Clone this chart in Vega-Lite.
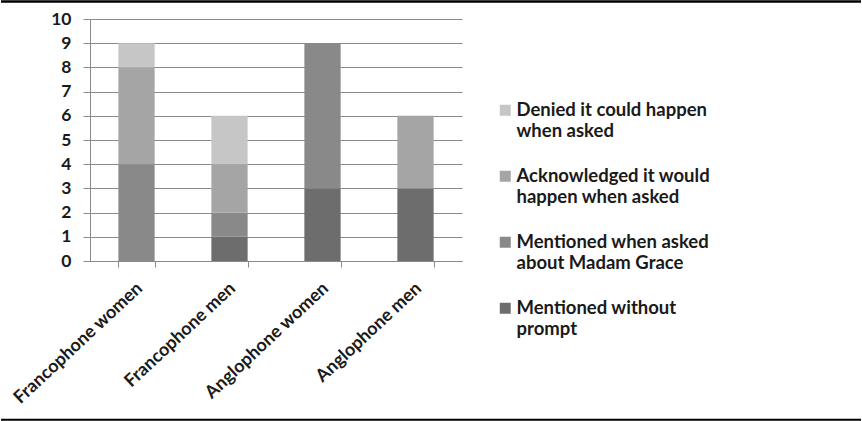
{
  "$schema": "https://vega.github.io/schema/vega-lite/v6.json",
  "width": 372,
  "height": 242,
  "autosize": {"type": "none"},
  "padding": {"left": 90, "top": 19, "right": 400, "bottom": 160},
  "background": "white",
  "config": {
    "font": "Lato",
    "view": {"stroke": null}
  },
  "layer": [
    {
      "data": {
        "values": [
          {"group": "Francophone women", "response": "Mentioned when asked about Madam Grace", "count": 4, "rank": 2},
          {"group": "Francophone women", "response": "Acknowledged it would happen when asked", "count": 4, "rank": 3},
          {"group": "Francophone women", "response": "Denied it could happen when asked", "count": 1, "rank": 4},
          {"group": "Francophone men", "response": "Mentioned without prompt", "count": 1, "rank": 1},
          {"group": "Francophone men", "response": "Mentioned when asked about Madam Grace", "count": 1, "rank": 2},
          {"group": "Francophone men", "response": "Acknowledged it would happen when asked", "count": 2, "rank": 3},
          {"group": "Francophone men", "response": "Denied it could happen when asked", "count": 2, "rank": 4},
          {"group": "Anglophone women", "response": "Mentioned without prompt", "count": 3, "rank": 1},
          {"group": "Anglophone women", "response": "Mentioned when asked about Madam Grace", "count": 6, "rank": 2},
          {"group": "Anglophone men", "response": "Mentioned without prompt", "count": 3, "rank": 1},
          {"group": "Anglophone men", "response": "Acknowledged it would happen when asked", "count": 3, "rank": 3}
        ]
      },
      "mark": {"type": "bar"},
      "encoding": {
        "x": {
          "field": "group",
          "type": "nominal",
          "sort": ["Francophone women", "Francophone men", "Anglophone women", "Anglophone men"],
          "scale": {"paddingInner": 0.61, "paddingOuter": 0.305},
          "axis": {
            "title": null,
            "labelAngle": -43,
            "labelFontSize": 18,
            "labelFontWeight": "bold",
            "labelColor": "#1a1a1a",
            "labelPadding": 12,
            "labelOffset": -3,
            "tickBand": "extent",
            "tickSize": 6,
            "tickColor": "#8a8a8a",
            "domainColor": "#8a8a8a",
            "labelLimit": 300
          }
        },
        "y": {
          "field": "count",
          "type": "quantitative",
          "aggregate": "sum",
          "stack": "zero",
          "scale": {"domain": [0, 10], "nice": false},
          "axis": {
            "title": null,
            "values": [0, 1, 2, 3, 4, 5, 6, 7, 8, 9, 10],
            "labelOverlap": false,
            "labelFontSize": 17.5,
            "labelFontWeight": "bold",
            "labelColor": "#1a1a1a",
            "labelPadding": 12,
            "tickSize": 7,
            "tickColor": "#8a8a8a",
            "domainColor": "#8a8a8a",
            "gridColor": "#8a8a8a",
            "gridOpacity": 1
          }
        },
        "color": {
          "field": "response",
          "type": "nominal",
          "scale": {
            "domain": ["Denied it could happen when asked", "Acknowledged it would happen when asked", "Mentioned when asked about Madam Grace", "Mentioned without prompt"],
            "range": ["#c6c6c6", "#a5a5a5", "#898989", "#6d6d6d"]
          },
          "legend": {
            "title": null,
            "orient": "none",
            "legendX": 406,
            "legendY": 82,
            "padding": 0,
            "symbolType": "square",
            "symbolSize": 121,
            "symbolStrokeWidth": 0,
            "symbolOpacity": 1,
            "labelFontSize": 18.5,
            "labelFontWeight": "bold",
            "labelColor": "#1a1a1a",
            "labelOffset": 2,
            "labelLimit": 400,
            "labelBaseline": "middle",
            "labelLineHeight": 24,
            "rowPadding": 26,
            "labelExpr": "datum.label == 'Denied it could happen when asked' ? ['Denied it could happen', 'when asked'] : datum.label == 'Acknowledged it would happen when asked' ? ['Acknowledged it would', 'happen when asked'] : datum.label == 'Mentioned when asked about Madam Grace' ? ['Mentioned when asked', 'about Madam Grace'] : ['Mentioned without', 'prompt']"
          }
        },
        "order": {"field": "rank", "type": "quantitative"}
      }
    },
    {
      "data": {
        "values": [
          {"edge": "top", "level": 10.72, "from": -0.2392, "to": 2.0726}
        ]
      },
      "mark": {"type": "rule", "color": "#000000", "strokeWidth": 2.5, "strokeCap": "butt", "clip": false},
      "encoding": {
        "x": {"field": "from", "type": "quantitative", "scale": {"domain": [0, 1], "nice": false, "zero": false}, "axis": null},
        "x2": {"field": "to"},
        "y": {"field": "level", "type": "quantitative", "axis": null}
      }
    },
    {
      "data": {
        "values": [
          {"edge": "bottom", "level": -6.56, "from": -0.2392, "to": 2.0726}
        ]
      },
      "mark": {"type": "rule", "color": "#000000", "strokeWidth": 2, "strokeCap": "butt", "clip": false},
      "encoding": {
        "x": {"field": "from", "type": "quantitative", "scale": {"domain": [0, 1], "nice": false, "zero": false}, "axis": null},
        "x2": {"field": "to"},
        "y": {"field": "level", "type": "quantitative", "axis": null}
      }
    }
  ],
  "resolve": {"scale": {"x": "independent"}, "axis": {"x": "independent", "y": "independent"}}
}
